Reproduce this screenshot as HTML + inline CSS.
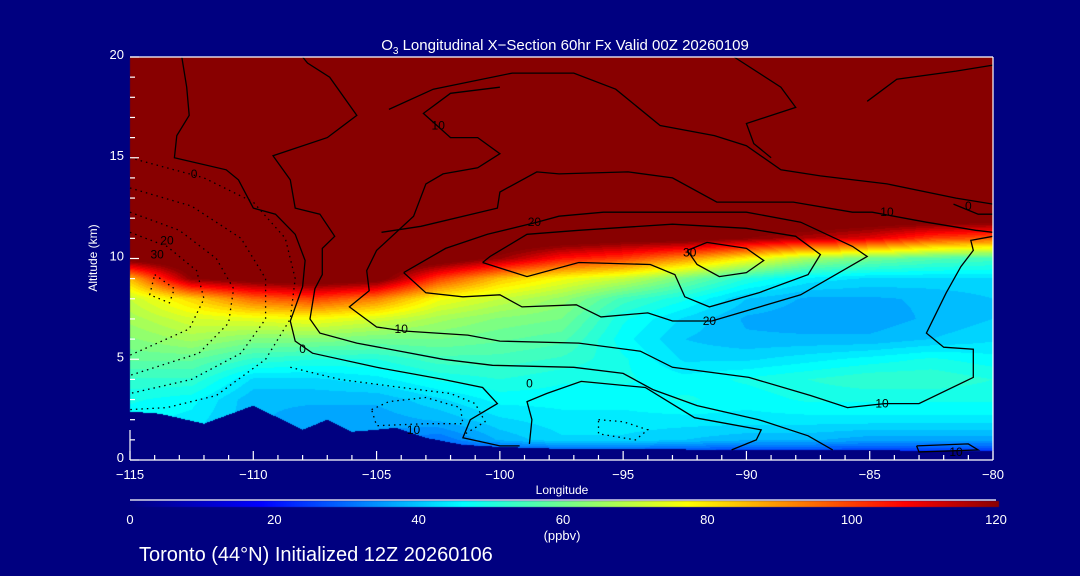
<!DOCTYPE html>
<html><head><meta charset="utf-8">
<style>
html,body{margin:0;padding:0;background:#000080;}
#wrap{position:relative;width:1080px;height:576px;background:#000080;overflow:hidden;font-family:"Liberation Sans",sans-serif;color:#fff;}
canvas{position:absolute;left:0;top:0;}
svg{position:absolute;left:0;top:0;}
</style></head>
<body>
<div id="wrap">
<canvas id="field" width="1080" height="576"></canvas>
<svg id="ov" width="1080" height="576"></svg>
</div>
<script>
// ---- data ----
const lons = [-115,-112.5,-110,-107.5,-105,-102.5,-100,-97.5,-95,-92.5,-90,-87.5,-85,-82.5,-80];
const alts = [0,1,2,3,4,5,6,7,8,9,10,11,12,13];
// ozone (ppbv) per longitude column, rows alt 0..13 km
const ozoneCols = [
 [40,44,46,48,52,58,62,66,70,85,125,130,130,130],
 [40,42,44,46,52,58,66,72,82,120,130,130,130,130],
 [36,38,38,38,42,52,62,74,95,125,130,130,130,130],
 [34,36,36,38,42,50,62,76,100,128,130,130,130,130],
 [30,34,36,38,44,50,60,72,92,125,130,130,130,130],
 [20,30,38,42,48,54,60,66,76,100,128,130,130,130],
 [15,38,42,46,50,54,58,62,70,84,118,130,130,130],
 [15,42,44,46,48,52,56,60,64,76,105,128,130,130],
 [15,42,44,46,48,48,46,48,54,70,100,125,130,130],
 [15,40,44,48,46,42,40,42,48,60,90,125,130,130],
 [15,38,44,46,48,42,38,37,40,50,78,120,130,130],
 [15,38,44,48,50,44,38,36,37,44,66,115,130,130],
 [15,36,44,48,52,46,38,36,37,42,60,110,128,130],
 [15,36,44,48,52,48,40,38,38,42,56,100,128,130],
 [15,36,44,48,50,46,42,40,40,42,54,96,128,130]
];
const terrainLon = [-115,-113.8,-112,-110,-108,-107,-106,-105,-104.2,-103,-101.5,-100,-97.5,-80];
const terrainAlt = [2.4,2.3,1.8,2.7,1.5,2.0,1.4,1.5,1.6,1.1,0.75,0.65,0.55,0.45];
const cbarTicks = [0,20,40,60,80,100,120];
const xTicks = [-115,-110,-105,-100,-95,-90,-85,-80];
const yTicks = [0,5,10,15,20];
const solidContours = [
 [[-112.9,20],[-112.7,18.5],[-112.6,17.1],[-113.1,16.1],[-113.2,15],[-111.1,14.4],[-110.6,13.9],[-110,12.5],[-109.1,12.2],[-108.3,11.2],[-107.9,9.9],[-108,8.6],[-108.5,6.9],[-108.3,5.9],[-107.6,5.3],[-105,4.6],[-102.3,4],[-100.7,3.6],[-100.1,2.8],[-101.2,2],[-101.5,1.1],[-100,0.7],[-99.2,0.7]],
 [[-98.8,0.8],[-98.7,2],[-98.9,2.9],[-98.1,3.3],[-96.7,3.9],[-94.1,3.6],[-92.1,2.1],[-89.4,1.5],[-89.6,1],[-90.6,0.5]],
 [[-108,20],[-107.8,19.7],[-106.9,19],[-105.8,17.1],[-107,16],[-109.2,15.1],[-108.5,13.9],[-108.3,12.5],[-107.3,12.2],[-106.7,11.1],[-107.2,10.5],[-107.2,9.2],[-107.5,8.5],[-107.7,7],[-107.3,6.3],[-105.8,5.8],[-102.3,5],[-100.3,4.7],[-97,4.6],[-95,4.3],[-93.8,3.5],[-92,2.7],[-89.5,2],[-87.5,1.2],[-86.5,0.5]],
 [[-100,18.5],[-102,18.2],[-103.1,17.2],[-102,16],[-100.9,16],[-100,15.2],[-100.9,14.5],[-102.3,14.2],[-103,13.7],[-103.5,12.1],[-105,10.4],[-105.4,9.4],[-105.3,8.4],[-106.1,7.6],[-105,6.6],[-103.9,6.4],[-101.3,6.2],[-100,5.9],[-96.8,5.8],[-94.3,5.4],[-93,4.6],[-89.9,4.1],[-87.4,3.2],[-85.9,2.6],[-84.4,2.8],[-83,2.8],[-80.8,4.1],[-80.8,5.5],[-82,5.6],[-82.7,6.3],[-81.9,8.3],[-81.3,9.6],[-80.8,10.4],[-80.9,10.9],[-80,11.1]],
 [[-103.9,9.3],[-103,8.3],[-101.5,8.1],[-100,8.2],[-99.1,7.6],[-96.9,7.7],[-95.9,7.1],[-94,7.3],[-93,6.9],[-91.4,6.9],[-87.8,8.2],[-85.1,10.1],[-85.7,10.6],[-87.8,11.8],[-90,12.3],[-95.8,12.3],[-97.6,12.1],[-98.5,11.8],[-100.5,11.2],[-102.2,10.5],[-103.9,9.3]],
 [[-100.7,9.8],[-98.9,9.1],[-96.8,9.8],[-93.9,9.7],[-92.9,9.2],[-92.5,8.1],[-91.5,7.6],[-89.5,8.3],[-87.5,9.2],[-87,10.2],[-88,11.1],[-90,11.5],[-93,11.7],[-96.8,11.4],[-98.9,11.2],[-100.4,10.1],[-100.7,9.8]],
 [[-92.4,10.4],[-92,9.7],[-91.1,9.1],[-90,9.3],[-89.3,9.9],[-90,10.5],[-91.6,10.8],[-92.4,10.4]],
 [[-104.8,11.3],[-103.2,11.6],[-100.1,12.5],[-100,13.3],[-98.5,14.3],[-97.6,14.2],[-94.8,14.3],[-93,14],[-91.2,12.8],[-88.1,12.8],[-85.7,12.3],[-84.9,12.3],[-82.7,11.8],[-80.7,11.4],[-80,11.3]],
 [[-104.5,17.4],[-102.7,18.4],[-99.5,19.2],[-97,19.2],[-95.3,18.4],[-93.5,16.6],[-91.3,16.1],[-90,15.6],[-88.6,14.4],[-87,14.1],[-84.3,13.7],[-81.5,13],[-80,12.7]],
 [[-90.5,20],[-88.6,18.5],[-88,17.5],[-90,16.7],[-89.7,15.7],[-89,15]],
 [[-85.1,17.8],[-83.9,18.9],[-81.5,19.3],[-80,19.6]],
 [[-81.6,12.7],[-80.6,12.2],[-80,12.2]],
 [[-83.1,0.7],[-81,0.8],[-80.6,0.5],[-83,0.4],[-83.1,0.7]]
];
const dottedContours = [
 [[-115,15],[-112,14],[-110,12.8],[-108.7,11],[-108.3,9],[-108.5,7],[-109.5,5],[-111.5,3.2],[-113.5,2.6],[-115,2.5]],
 [[-115,13.5],[-112.5,12.6],[-110.5,11],[-109.5,9],[-109.5,7],[-110.5,5.3],[-112.5,4],[-115,3.3]],
 [[-115,12.3],[-113,11.4],[-111.5,10],[-110.8,8.5],[-111,6.8],[-112.2,5.3],[-115,4.2]],
 [[-115,11.3],[-113.5,10.6],[-112.3,9.4],[-112,8],[-112.6,6.5],[-115,5.2]],
 [[-114,9.2],[-113.2,8.5],[-113.4,7.8],[-114.2,8.2],[-114,9.2]],
 [[-108.5,4.6],[-106.5,4],[-104,3.6],[-102,3.3],[-101,2.8],[-100.6,1.9],[-101.4,1.3]],
 [[-105.2,2.5],[-104.5,2.9],[-103,3.1],[-101.6,2.6],[-101.5,1.8],[-103,1.8],[-105,1.7],[-105.2,2.5]],
 [[-96,2],[-95,1.9],[-94,1.5],[-94.5,1],[-96,1.3],[-96,2]]
];
const labelText = ["0","10","20","30","0","10","20","30","10","20","10","10","0","0","10"];
const labelLon  = [-112.4,-102.5,-113.5,-113.9,-108,-104,-91.5,-92.3,-84.5,-98.6,-84.3,-103.5,-81,-98.8,-81.5];
const labelAlt  = [14.2,16.6,10.9,10.2,5.5,6.5,6.9,10.3,2.8,11.8,12.3,1.5,12.6,3.8,0.4];

// ---- geometry ----
const X0=130,X1=993,Y0=57,Y1=460;
const xs = lon => X0 + (lon+115)/35*(X1-X0);
const ys = a => Y1 - a/20*(Y1-Y0);
const cmapStops=[[0,[0,0,128]],[18,[0,0,255]],[46,[0,255,255]],[77,[255,255,0]],[107,[255,0,0]],[120,[136,0,0]]];
function cmap(v){
  if(v>=120) return cmapStops[5][1];
  if(v<=0) return cmapStops[0][1];
  for(let i=0;i<cmapStops.length-1;i++){
    const [a,ca]=cmapStops[i],[b,cb]=cmapStops[i+1];
    if(v<=b){const t=(v-a)/(b-a);return [0,1,2].map(k=>Math.round(ca[k]+(cb[k]-ca[k])*t));}
  }
}
function interp1(xa,ya,x){
  if(x<=xa[0])return ya[0];
  for(let i=0;i<xa.length-1;i++){ if(x<=xa[i+1]){const t=(x-xa[i])/(xa[i+1]-xa[i]);return ya[i]+(ya[i+1]-ya[i])*t;} }
  return ya[ya.length-1];
}
function field(lon,alt){
  const fi=Math.max(0,Math.min(lons.length-1.0001,(lon-lons[0])/(lons[1]-lons[0])));
  const i=Math.floor(fi),tx=fi-i;
  if(alt>=alts[alts.length-1]) return 130;
  const fj=Math.max(0,(alt-alts[0])/(alts[1]-alts[0]));
  const j=Math.floor(fj),ty=fj-j;
  const c0=ozoneCols[i],c1=ozoneCols[i+1];
  const a=c0[j]*(1-ty)+c0[j+1]*ty, b=c1[j]*(1-ty)+c1[j+1]*ty;
  return a*(1-tx)+b*tx;
}
// ---- draw field ----
const cv=document.getElementById('field'),ctx=cv.getContext('2d');
const W=X1-X0,H=Y1-Y0;
const img=ctx.createImageData(W,H);
for(let py=0;py<H;py++){
  const alt=(Y1-(Y0+py+0.5))/(Y1-Y0)*20;
  for(let px=0;px<W;px++){
    const lon=-115+(px+0.5)/W*35;
    let c;
    if(alt<interp1(terrainLon,terrainAlt,lon)) c=[0,0,128];
    else { let v=field(lon,alt); v=Math.floor(v/2.5)*2.5+1.25; c=cmap(v); }
    const o=(py*W+px)*4; img.data[o]=c[0];img.data[o+1]=c[1];img.data[o+2]=c[2];img.data[o+3]=255;
  }
}
ctx.putImageData(img,X0,Y0);
// colorbar
const cbX0=130,cbX1=999;
for(let x=cbX0;x<cbX1;x++){const c=cmap((x-cbX0)/(cbX1-cbX0)*120);ctx.fillStyle=`rgb(${c[0]},${c[1]},${c[2]})`;ctx.fillRect(x,501,1,6);}

// ---- overlay ----
const NS='http://www.w3.org/2000/svg',svg=document.getElementById('ov');
function mk(tag,attrs,parent){const e=document.createElementNS(NS,tag);for(const k in attrs)e.setAttribute(k,attrs[k]);(parent||svg).appendChild(e);return e;}
const gc=mk('g',{});


solidContours.forEach(c=>{
  const p=mk('polyline',{points:c.map(q=>xs(q[0]).toFixed(1)+','+ys(q[1]).toFixed(1)).join(' '),fill:'none',stroke:'#000','stroke-width':1.3},gc);
  
  
});
dottedContours.forEach(c=>{
  const p=mk('polyline',{points:c.map(q=>xs(q[0]).toFixed(1)+','+ys(q[1]).toFixed(1)).join(' '),fill:'none',stroke:'#000','stroke-width':1.3,'stroke-dasharray':'1.5 4'},gc);
  
  
});
labelText.forEach((t,i)=>{
  const e=mk('text',{x:xs(labelLon[i]),y:ys(labelAlt[i])+4,'font-size':12,fill:'#000','text-anchor':'middle','font-family':'Liberation Sans, sans-serif'},gc);
  e.textContent=t;
  
  
});
// frame
const fr=mk('g',{stroke:'#fff','stroke-width':1.2});


mk('line',{x1:X0,y1:Y0,x2:X1,y2:Y0},fr);
mk('line',{x1:X0,y1:Y1,x2:X1,y2:Y1},fr);
mk('line',{x1:X1,y1:Y0,x2:X1,y2:Y1},fr);
mk('line',{x1:X0,y1:430,x2:X0,y2:Y1},fr);
mk('line',{x1:cbX0,y1:500,x2:cbX1-3,y2:500},fr);
// ticks
for(let l=-115;l<=-80;l++){const maj=(l%5===0);mk('line',{x1:xs(l),y1:Y1,x2:xs(l),y2:Y1-(maj?9:5)},fr);}
for(let a=0;a<=20;a++){mk('line',{x1:X0,y1:ys(a),x2:X0+(a%5===0?9:5),y2:ys(a)},fr);}
function txt(s,x,y,size,anchor,name,extra){
  const e=mk('text',Object.assign({x:x,y:y,'font-size':size,fill:'#fff','text-anchor':anchor||'start','font-family':'Liberation Sans, sans-serif'},extra||{}));
  e.textContent=s;
  
  
  return e;
}
xTicks.forEach(l=>txt(l<0?'\u2212'+Math.abs(l):String(l),xs(l),479,13,'middle','x-tick-label'));
yTicks.forEach(a=>txt(String(a),124,ys(a)+2,13,'end','y-tick-label'));
const t=txt('',565,50,15,'middle','chart-title');
t.innerHTML='O<tspan font-size="10" dy="4">3</tspan><tspan dy="-4"> Longitudinal X\u2212Section 60hr  Fx Valid 00Z 20260109</tspan>';
t.setAttribute('xml:space','preserve');
cbarTicks.forEach(v=>txt(String(v),cbX0+v/120*(cbX1-cbX0-3),524,13,'middle','colorbar-tick-label'));
txt('Longitude',562,494,12,'middle','x-axis-title');
txt('Altitude (km)',0,0,12,'middle','y-axis-title',{transform:'translate(97,258) rotate(-90)'});
txt('(ppbv)',562,540,13,'middle','colorbar-unit');
txt('Toronto (44\u00b0N) Initialized 12Z 20260106',139,561,20,'start','footer-caption');
</script>
</body></html>
